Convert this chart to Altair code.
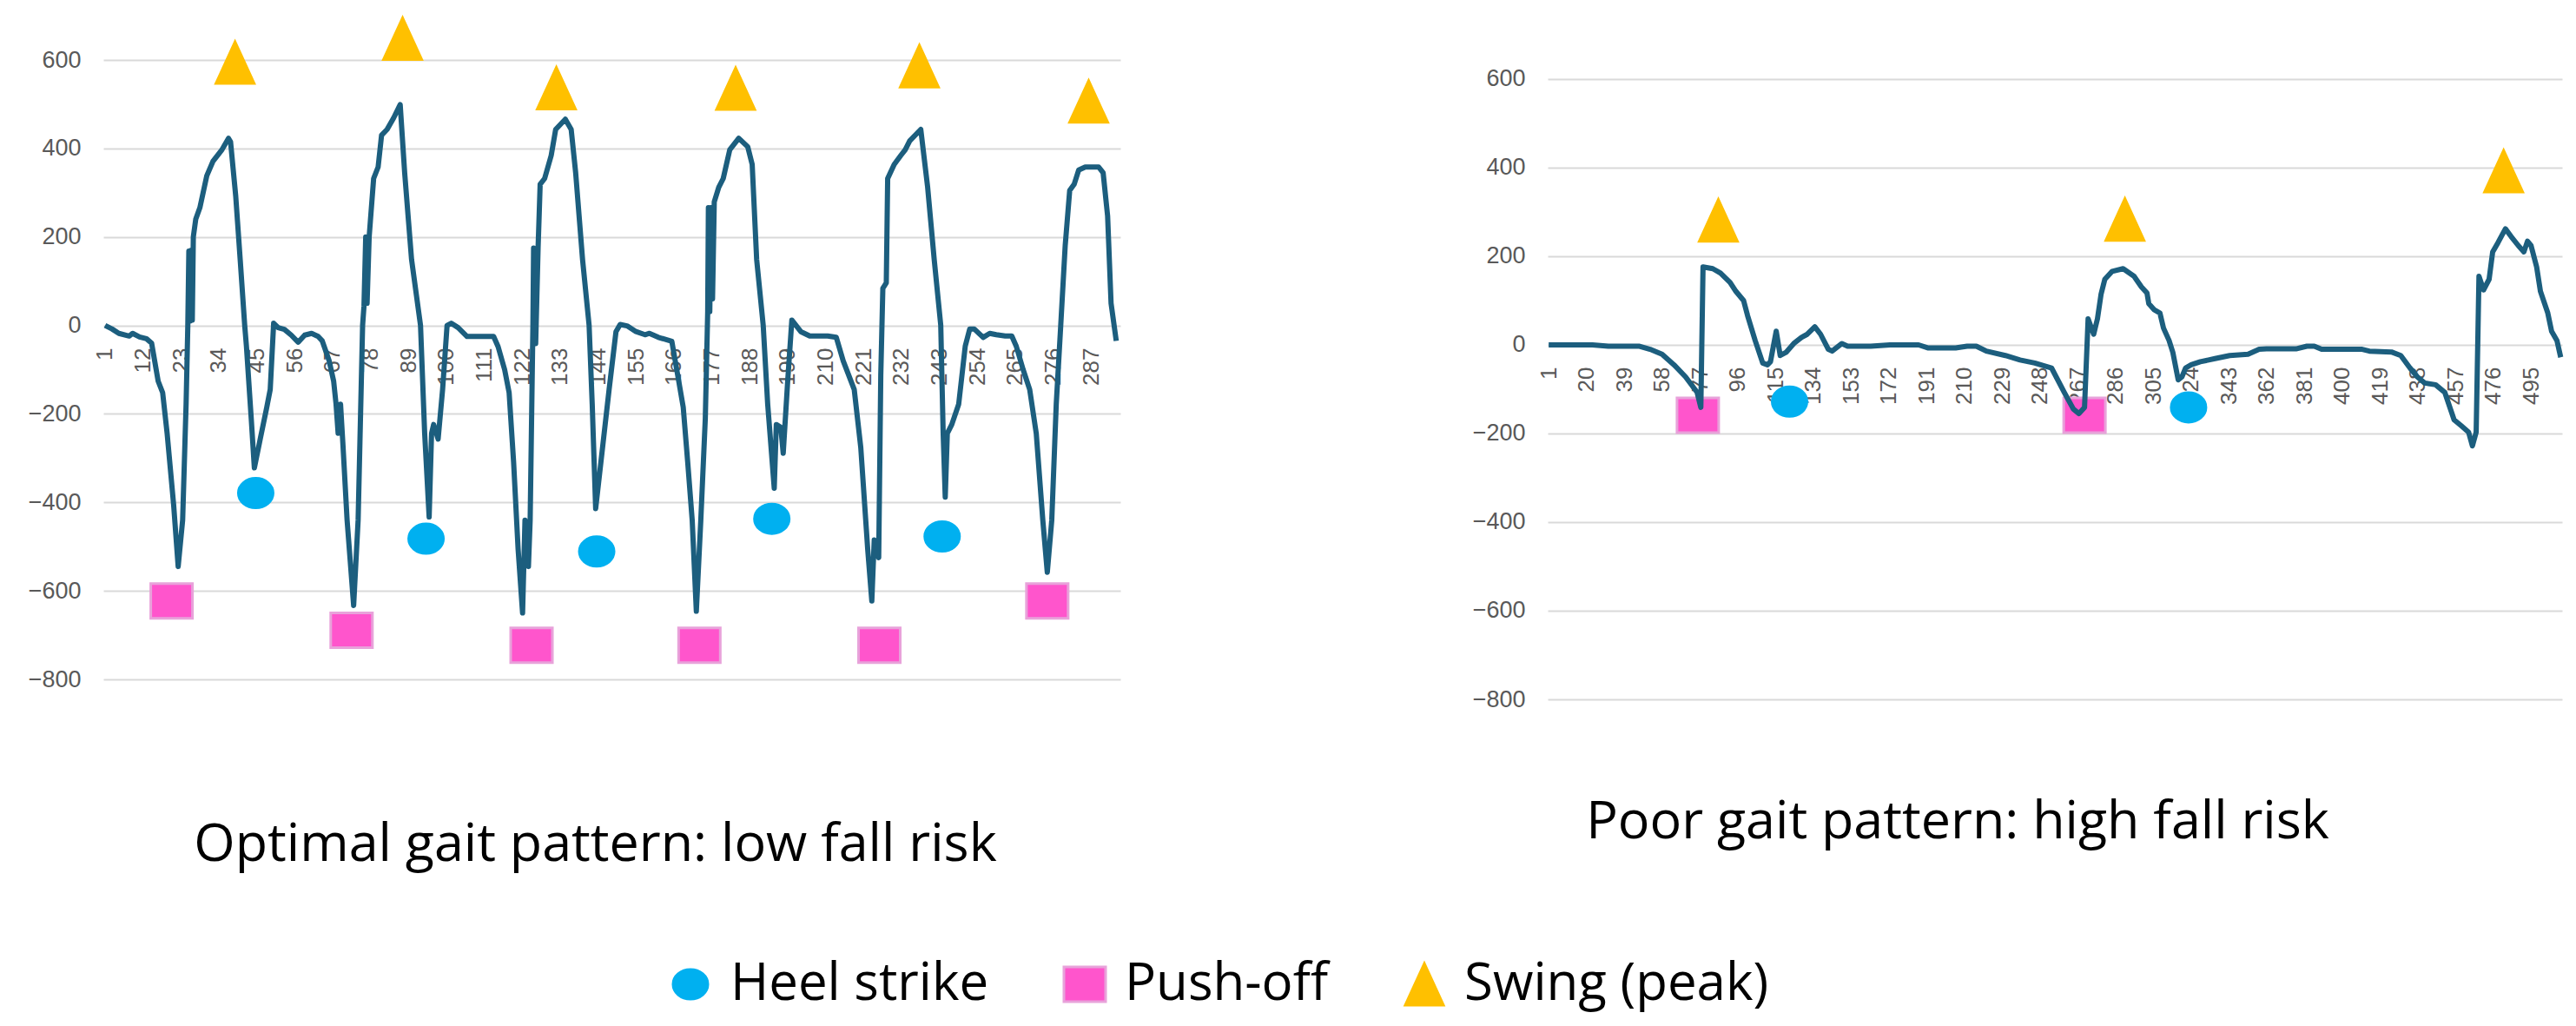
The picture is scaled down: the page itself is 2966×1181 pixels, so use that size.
import altair as alt
import pandas as pd

# ---------------- data ----------------
# Left panel: optimal gait (sample index, value)
left_s = [1, 3, 5, 8, 9, 11, 13, 14.5, 16.4, 17.7, 19, 20.9, 22.2, 23.5, 24.5, 25, 25.3, 25.7, 26, 26.3, 26.6,
          27.3, 28.5, 30.5, 32.3, 34.9, 36.8, 37.4, 38.9, 40.2, 41.5, 42, 43.4, 44.3, 46, 47.9, 48.9, 49.9,
          51.2, 53, 55, 57, 58.9, 60.9, 62.8, 64, 66, 67.3, 68, 68.6, 69.3, 70, 71.2, 73.1, 74.4, 75.7, 76.1,
          76.6, 77, 77.6, 78.9, 80.2, 81.2, 82.8, 84.7, 86.6, 87.9, 89.9, 92.5, 93.7, 95, 95.7, 96.3, 97.6,
          98.9, 100.2, 101.4, 103.4, 106, 113.7, 115, 116.9, 118.2, 119.5, 120.8, 122.1, 122.8, 123.8, 124.3,
          125.1, 125.3, 125.9, 126.6, 127.2, 128.5, 130.4, 131.7, 134.5, 136.2, 137.5, 139.5, 141.4, 142.3,
          143.3, 145.3, 147.2, 149.2, 150.4, 152.4, 155, 157.6, 158.9, 161.5, 165.4, 167.4, 168.7, 170, 171.3,
          172.5, 173.8, 175.1, 175.8, 176, 176.4, 176.8, 177.2, 177.7, 179, 180.3, 182.2, 184.8, 187.4, 188.7,
          190, 191.9, 193.2, 195.1, 195.7, 197, 197.7, 199, 200.2, 202.8, 205.4, 210.6, 213.1, 215.1, 218.3,
          220.2, 222.2, 223.4, 224.1, 225.4, 226, 226.6, 227.6, 228, 229.9, 231.8, 233.1, 234.4, 237.6, 239.6,
          241.5, 243.4, 244.1, 244.7, 245.3, 246.6, 248.6, 250.5, 251.8, 253.1, 255.7, 257.6, 259.5, 262.1,
          264, 265.3, 267.3, 269.2, 271.1, 273, 274.3, 275.6, 276.9, 278.2, 279.5, 280.8, 282.1, 283.4, 285.3,
          289.2, 290.5, 291.8, 292.8, 294.3]
left_v = [0, -8, -18, -24, -18, -26, -30, -40, -126, -152, -244, -407, -545, -440, -178, 0, 168, 10, 170, 12, 200,
          240, 266, 338, 371, 397, 423, 415, 292, 148, 0, -47, -211, -322, -257, -185, -145, 5,
          -5, -9, -22, -38, -22, -18, -25, -35, -80, -126, -178, -244, -178, -270, -440, -633, -440, 0, 44,
          200, 50, 200, 332, 358, 430, 443, 469, 499, 345, 149, 0, -244, -433, -244, -224, -257,
          -145, 0, 5, -5, -25, -25, -48, -100, -152, -309, -505, -650, -440, -545, -440,
          0, 175, -41, 175, 319, 332, 384, 443, 466, 443, 345, 149, 0, -178,
          -414, -276, -145, -14, 2, -1, -14, -21, -18, -27, -36, -126, -185, -309, -440,
          -646, -440, -211, 31, 266, 31, 266, 60, 279, 312, 332, 397, 423, 404, 364,
          149, 0, -178, -368, -224, -230, -289, -126, 12, -14, -24, -24, -27, -80, -145,
          -276, -505, -623, -485, -525, -113, 84, 96, 332, 364, 384, 397, 417, 443, 312,
          149, 0, -244, -388, -244, -224, -178, -47, -8, -8, -27, -18, -21, -24,
          -24, -47, -100, -145, -244, -440, -558, -440, -178, 0, 181, 305, 319, 351, 358,
          358, 345, 247, 50, -35]
left_heel_s = [44.7, 94.1, 143.6, 194.4, 243.8]
left_heel_v = [-379, -482, -511, -437, -477]
left_push_s = [20.3, 72.5, 124.7, 173.4, 225.6, 274.3]
left_push_v = [-623, -689, -723, -723, -723, -623]
left_swing_s = [38.7, 87.3, 131.9, 183.9, 237.2, 286.3]
left_swing_v = [594, 648, 536, 535, 586, 506]
left_ticks = [1, 12, 23, 34, 45, 56, 67, 78, 89, 100, 111, 122, 133, 144, 155, 166, 177, 188, 199, 210,
              221, 232, 243, 254, 265, 276, 287]

# Right panel: poor gait (sample index, value)
right_s = [1, 23, 31, 46.7, 52, 58, 64, 69.8, 75.6, 77.5, 78.6, 83.5, 87.4, 92.2, 95.1, 99, 101, 104.8, 108.6,
           111, 112.5, 115.4, 117.4, 120.3, 124.2, 128.1, 131, 134.8, 137.7, 141.6, 143.5, 148.4, 151.3, 162.9,
           172.6, 187, 191.9, 205.6, 211.4, 216, 221, 230.6, 238, 245.4, 253.8, 260.2, 264.8, 267.6, 270.4,
           272.2, 275, 276.9, 278.7, 280.6, 284.3, 289.8, 295.3, 299, 301.8, 302.7, 305.5, 308.3, 310.1, 312.9,
           314.8, 317.5, 319.4, 321.2, 324, 328.6, 336, 343.4, 352.6, 358.2, 361.9, 376.7, 382.2, 385.9, 389.6,
           410, 413.6, 424.7, 429.4, 434, 437.7, 441.4, 446.9, 451.5, 456.2, 459.9, 463.5, 465.4, 467.3, 468.7,
           471, 473.8, 475.6, 478.3, 482, 484.8, 488.5, 491.3, 493.1, 494.9, 497.7, 499.6, 503.3, 505.2, 507.9,
           509.8]
right_v = [0, 0, -3, -3, -10, -21, -45, -72, -107, -141, 176, 172, 162, 141, 121, 100, 66, 10, -41,
           -45, -38, 31, -24, -17, 3, 17, 24, 41, 24, -10, -14, 3, -3, -3,
           0, 0, -7, -7, -3, -3, -14, -24, -34, -41, -52, -107, -145, -155, -141,
           59, 24, 59, 114, 148, 166, 172, 155, 131, 117, 93, 79, 72, 38, 10,
           -17, -79, -72, -52, -45, -38, -31, -24, -21, -10, -9, -9, -3, -3, -10,
           -10, -14, -16, -24, -52, -72, -86, -90, -107, -169, -183, -197, -228, -197, 155,
           124, 148, 210, 231, 262, 245, 224, 210, 234, 224, 176, 121, 72, 31, 10,
           -28]
right_heel_s = [122.1, 322.7]
right_heel_v = [-128, -141]
right_push_s = [76, 270.4]
right_push_v = [-159, -159]
right_swing_s = [86.3, 290.7, 481.1]
right_swing_v = [281, 283, 392]
right_ticks = [1, 20, 39, 58, 77, 96, 115, 134, 153, 172, 191, 210, 229, 248, 267, 286, 305, 324, 343, 362,
               381, 400, 419, 438, 457, 476, 495]

y_ticks = [-800, -600, -400, -200, 0, 200, 400, 600]
types = ["Heel strike", "Push-off", "Swing (peak)"]
titles = ["Optimal gait pattern: low fall risk", "Poor gait pattern: high fall risk"]

# ---------------- styling ----------------
FONT = "Open Sans"
AXFONT = "Liberation Sans"
LINE = "#1C5E7E"
fills = ["#00B0F0", "#FF55CC", "#FFC000"]
strokes = ["#00B0F0", "#E8A2DA", "#FFC000"]
shapes = ["M-1,0A1,0.85 0 1,1 1,0A1,0.85 0 1,1 -1,0Z",
          "M-1.2,-1H1.2V1H-1.2Z",
          "M-1.1,1.2L1.1,1.2L0,-1.2Z"]

legend = alt.Legend(orient="none", legendX=646, legendY=1034, direction="horizontal",
                    labelFontSize=60, labelFont=FONT, labelColor="#000000", symbolSize=1600,
                    symbolStrokeWidth=3, labelOffset=16, columnPadding=80, labelLimit=700)


def markers_df(hs, hv, ps, pv, ss, sv):
    return pd.DataFrame({
        "s": hs + ps + ss,
        "v": hv + pv + sv,
        "type": [types[0]] * len(hs) + [types[1]] * len(ps) + [types[2]] * len(ss),
    })


def panel(ls, lv, mdf, ticks, xmax, ymax, width, height, x_offset, title, t_offset, t_dx):
    xs = alt.Scale(domain=[0.5, xmax], nice=False, zero=False)
    ys = alt.Scale(domain=[-800, ymax], nice=False, zero=False)
    xax = alt.Axis(values=ticks, labelAngle=270, offset=x_offset, domain=False, ticks=False, grid=False,
                   labelPadding=25, labelFontSize=26, labelFont=AXFONT, labelColor="#595959",
                   labelOverlap=False, labelFlush=False, title=None)
    yax = alt.Axis(values=y_ticks, grid=True, gridColor="#D9D9D9", gridWidth=2, domain=False, ticks=False,
                   labelFontSize=27, labelFont=AXFONT, labelColor="#595959", labelPadding=26, title=None)
    base_line = pd.DataFrame({"s": ls, "v": lv})
    pts = alt.Chart(mdf).mark_point(filled=True, size=1600, opacity=1, strokeWidth=3).encode(
        x=alt.X("s:Q", scale=xs, axis=xax),
        y=alt.Y("v:Q", scale=ys, axis=yax),
        color=alt.Color("type:N", scale=alt.Scale(domain=types, range=fills), legend=legend, title=None),
        shape=alt.Shape("type:N", scale=alt.Scale(domain=types, range=shapes), legend=legend, title=None),
        stroke=alt.Stroke("type:N", scale=alt.Scale(domain=types, range=strokes), legend=legend, title=None),
    )
    line = alt.Chart(base_line).mark_line(color=LINE, strokeWidth=6, strokeJoin="round").encode(
        x=alt.X("s:Q", scale=xs, axis=xax),
        y=alt.Y("v:Q", scale=ys, axis=yax),
    )
    return alt.layer(pts, line).properties(
        width=width, height=height,
        title=alt.TitleParams(title, orient="bottom", frame="group", offset=t_offset, dx=t_dx,
                              fontSize=61, font=FONT, fontWeight="normal", color="#000000", anchor="middle"),
    )


left = panel(left_s, left_v,
             markers_df(left_heel_s, left_heel_v, left_push_s, left_push_v, left_swing_s, left_swing_v),
             left_ticks, 295.5, 600, 1171, 713, -407, titles[0], 148, -19)
right = panel(right_s, right_v,
              markers_df(right_heel_s, right_heel_v, right_push_s, right_push_v, right_swing_s, right_swing_v),
              right_ticks, 510.5, 643.1, 1168, 736, -408, titles[1], 99, -112)

chart = alt.hconcat(left, right, spacing=492, bounds="flush").properties(
    padding={"left": 24, "top": 6, "right": 5, "bottom": 5},
    background="white",
).configure_view(stroke=None)

chart.save("out.html", embed_options={"renderer": "svg", "actions": False})
